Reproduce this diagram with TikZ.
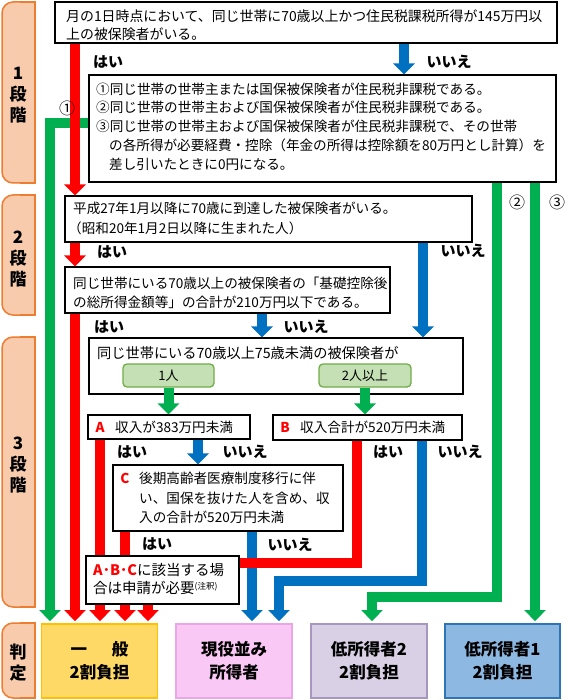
\documentclass[tikz,border=0pt]{standalone}
\usepackage{fontspec}
\setmainfont{Noto Sans CJK JP}
\usetikzlibrary{arrows.meta}
\definecolor{cred}{HTML}{FF0000}
\definecolor{cblue}{HTML}{0070C0}
\definecolor{cgreen}{HTML}{00B050}
\definecolor{stfill}{HTML}{F8CBAD}
\definecolor{stline}{HTML}{ED7D31}
\definecolor{gfill}{HTML}{C5E0B4}
\definecolor{gline}{HTML}{70AD47}
\definecolor{rafill}{HTML}{FFD966}
\definecolor{raline}{HTML}{FFC000}
\definecolor{rbfill}{HTML}{FAC8F5}
\definecolor{rbline}{HTML}{EBA6E8}
\definecolor{rcfill}{HTML}{D9D0E5}
\definecolor{rcline}{HTML}{A597C0}
\definecolor{rdfill}{HTML}{8DB8E2}
\definecolor{rdline}{HTML}{2E75B6}
\newcommand\fs[1]{\fontsize{#1}{#1}\selectfont}
\newcommand\fsl[2]{\fontsize{#1}{#2}\selectfont}
\newcommand\stagebox[2]{%
  \fill[stfill,rounded corners=11pt] (2,#1) rectangle (35,#2);
  \fill[stfill] (20,#1) rectangle (35,#2);
  \draw[stline,line width=1.5pt,rounded corners=11pt] (20,#1) -- (2,#1) -- (2,#2) -- (20,#2);
  \draw[stline,line width=1.5pt] (20,#1) -- (35,#1) -- (35,#2) -- (20,#2);}
\begin{document}
\begin{tikzpicture}[x=1pt,y=-1pt,
  box/.style={draw=black, line width=1.1pt, fill=white, inner sep=0pt},
  gbox/.style={draw=gline, line width=1.3pt, fill=gfill, rounded corners=4pt, inner sep=0pt, font=\fs{13}},
  res/.style={line width=1.8pt, inner sep=0pt, align=center, font=\fsl{16.5}{23}\bfseries, minimum width=116pt, minimum height=74pt},
  t/.style={anchor=west, inner sep=0pt, font=\fs{13.6}},
  lbl/.style={inner sep=0pt, font=\fs{15}\bfseries},
  num/.style={inner sep=0pt, font=\fs{16}},
  conn/.style={line width=10pt, -{Triangle[width=21pt,length=11pt]}},
  stg/.style={inner sep=0pt, align=center, font=\fsl{17}{21}\bfseries},
  tag/.style={inner sep=0pt, font=\fs{13.6}\bfseries, text=cred},
 ]
\useasboundingbox (0,0) rectangle (564,700);
\fill[white] (0,0) rectangle (564,700);

% stage labels
\stagebox{2}{183}
\stagebox{195}{315}
\stagebox{337}{607}
\stagebox{623}{698}
\node[stg] (s1) at (18,95) {1\\段\\階};
\node[stg] (s2) at (18,259) {2\\段\\階};
\node[stg] (s3) at (18,465) {3\\段\\階};
\node[stg] (s4) at (18,663) {判\\定};

% lanes
\coordinate (Lg1) at (50,0);
\coordinate (Lr1) at (75,0);
\coordinate (Lr2) at (100,0);
\coordinate (Lr3) at (125,0);
\coordinate (Lr4) at (148,0);
\coordinate (Lbl1) at (404,0);
\coordinate (Lbl2) at (423,0);
\coordinate (Lbl3) at (262,0);
\coordinate (LbA) at (198,0);
\coordinate (LbC) at (252,0);
\coordinate (LrB) at (357,0);
\coordinate (LbB) at (422,0);
\coordinate (LbBd) at (279,0);
\coordinate (Lg2) at (497,0);
\coordinate (Lg2d) at (372,0);
\coordinate (Lg3) at (535,0);
\coordinate (Yg1) at (0,123);
\coordinate (YrB) at (0,563);
\coordinate (YbB) at (0,581);
\coordinate (Yg2) at (0,597);

% boxes
\node[box, minimum width=502pt, minimum height=41pt] (top) at (306,22.5) {};
\node[box, minimum width=467pt, minimum height=107pt] (b2) at (322.5,128.5) {};
\node[box, minimum width=407pt, minimum height=46pt] (b3) at (268.5,219) {};
\node[box, minimum width=325pt, minimum height=46pt] (b4) at (227.5,290) {};
\node[box, minimum width=374pt, minimum height=56pt] (b5) at (276,366) {};
\node[box, minimum width=162pt, minimum height=24pt] (bA) at (169,427) {};
\node[box, minimum width=189pt, minimum height=25pt] (bB) at (367.5,427.5) {};
\node[box, minimum width=230pt, minimum height=66pt] (bC) at (228,498) {};
\node[gbox, minimum width=91pt, minimum height=23pt] (g1) at (168.5,375.5) {1人};
\node[gbox, minimum width=92pt, minimum height=23pt] (g2) at (365,375.5) {2人以上};

\node[res, draw=raline, fill=rafill] (r1) at (99.5,661) {一\hspace{1.5em}般\\2割負担};
\node[res, draw=rbline, fill=rbfill] (r2) at (234,661) {現役並み\\所得者};
\node[res, draw=rcline, fill=rcfill] (r3) at (369,661) {低所得者2\\2割負担};
\node[res, draw=rdline, fill=rdfill, minimum width=115pt] (r4) at (502.5,661) {低所得者1\\2割負担};

% green connectors
\draw[conn, cgreen, shorten >=2pt] (b2.west |- Yg1) -- (Lg1 |- Yg1) -- (r1.north -| Lg1);
\draw[conn, cgreen, shorten >=2pt] (b2.south -| Lg2) -- (Lg2 |- Yg2) -- (Lg2d |- Yg2) -- (r3.north -| Lg2d);
\draw[conn, cgreen, shorten >=2pt] (b2.south -| Lg3) -- (r4.north -| Lg3);
\draw[conn, cgreen] (g1.south) -- (bA.north -| g1.south);
\draw[conn, cgreen] (g2.south) -- (bB.north -| g2.south);

% blue connectors
\draw[conn, cblue] (top.south -| Lbl1) -- (b2.north -| Lbl1);
\draw[conn, cblue] (b3.south -| Lbl2) -- (b5.north -| Lbl2);
\draw[conn, cblue] (b4.south -| Lbl3) -- (b5.north -| Lbl3);
\draw[conn, cblue] (bA.south -| LbA) -- (bC.north -| LbA);
\draw[conn, cblue, shorten >=2pt] (bC.south -| LbC) -- (r2.north -| LbC);
\draw[conn, cblue, shorten >=2pt] (bB.south -| LbB) -- (LbB |- YbB) -- (LbBd |- YbB) -- (r2.north -| LbBd);

% red connectors
\draw[conn, cred] (top.south -| Lr1) -- (b3.north -| Lr1);
\draw[conn, cred] (b3.south -| Lr1) -- (b4.north -| Lr1);
\draw[conn, cred, shorten >=2pt] (b4.south -| Lr1) -- (r1.north -| Lr1);
\draw[conn, cred, shorten >=2pt] (bA.south -| Lr2) -- (r1.north -| Lr2);
\draw[conn, cred, shorten >=2pt] (bC.south -| Lr3) -- (r1.north -| Lr3);
\draw[conn, cred, shorten >=2pt] (bB.south -| LrB) -- (LrB |- YrB) -- (Lr4 |- YrB) -- (r1.north -| Lr4);

% box D on top
\node[box, minimum width=153pt, minimum height=48pt] (bD) at (162.5,580) {};

% texts
\node[t, font=\fs{13.9}] (tt1) at (66,16) {月の1日時点において、同じ世帯に70歳以上かつ住民税課税所得が145万円以};
\node[t, font=\fs{13.9}] (tt2) at (66,34) {上の被保険者がいる。};
\node[t] (tb1) at (96,89) {①同じ世帯の世帯主または国保被保険者が住民税非課税である。};
\node[t] (tb2) at (96,107) {②同じ世帯の世帯主および国保被保険者が住民税非課税である。};
\node[t] (tb3) at (96,126) {③同じ世帯の世帯主および国保被保険者が住民税非課税で、その世帯};
\node[t] (tb4) at (109,145) {の各所得が必要経費・控除（年金の所得は控除額を80万円とし計算）を};
\node[t] (tb5) at (109,164) {差し引いたときに0円になる。};
\node[t] (tc1) at (73,208) {平成27年1月以降に70歳に到達した被保険者がいる。};
\node[t] (tc2) at (68,228) {（昭和20年1月2日以降に生まれた人）};
\node[t] (td1) at (73,283) {同じ世帯にいる70歳以上の被保険者の「基礎控除後};
\node[t] (td2) at (73,302) {の総所得金額等」の合計が210万円以下である。};
\node[t, font=\fs{14.2}] (te1) at (97,353) {同じ世帯にいる70歳以上75歳未満の被保険者が};
\node[tag] (tA) at (100,427) {A};
\node[t] (tA1) at (115,427) {収入が383万円未満};
\node[tag] (tB) at (285,427.5) {B};
\node[t] (tB1) at (300,427.5) {収入合計が520万円未満};
\node[tag] (tC) at (125,478) {C};
\node[t] (tC1) at (139,478) {後期高齢者医療制度移行に伴};
\node[t] (tC2) at (139,498) {い、国保を抜けた人を含め、収};
\node[t] (tC3) at (139,517) {入の合計が520万円未満};
\node[t, font=\fs{14.5}] (tD1) at (93,570) {{\bfseries\color{cred}A･B･C}に該当する場};
\node[t, font=\fs{14.5}] (tD2) at (93,588) {合は申請が必要\raisebox{4pt}{\fs{8.5}(注釈)}};

% yes/no labels
\node[lbl] (y1) at (108,62) {はい};
\node[lbl] (n1) at (449,62) {いいえ};
\node[lbl] (y2) at (112,252) {はい};
\node[lbl] (n2) at (463,251) {いいえ};
\node[lbl] (y3) at (109,327) {はい};
\node[lbl] (n3) at (306,327) {いいえ};
\node[lbl] (y4) at (132,452) {はい};
\node[lbl] (n4) at (245,452) {いいえ};
\node[lbl] (y5) at (388,452) {はい};
\node[lbl] (n5) at (460,452) {いいえ};
\node[lbl] (y6) at (157,544) {はい};
\node[lbl] (n6) at (290,545) {いいえ};
\node[num] (c1) at (67,108) {①};
\node[num] (c2) at (517,202) {②};
\node[num] (c3) at (557,202) {③};
\end{tikzpicture}
\end{document}
